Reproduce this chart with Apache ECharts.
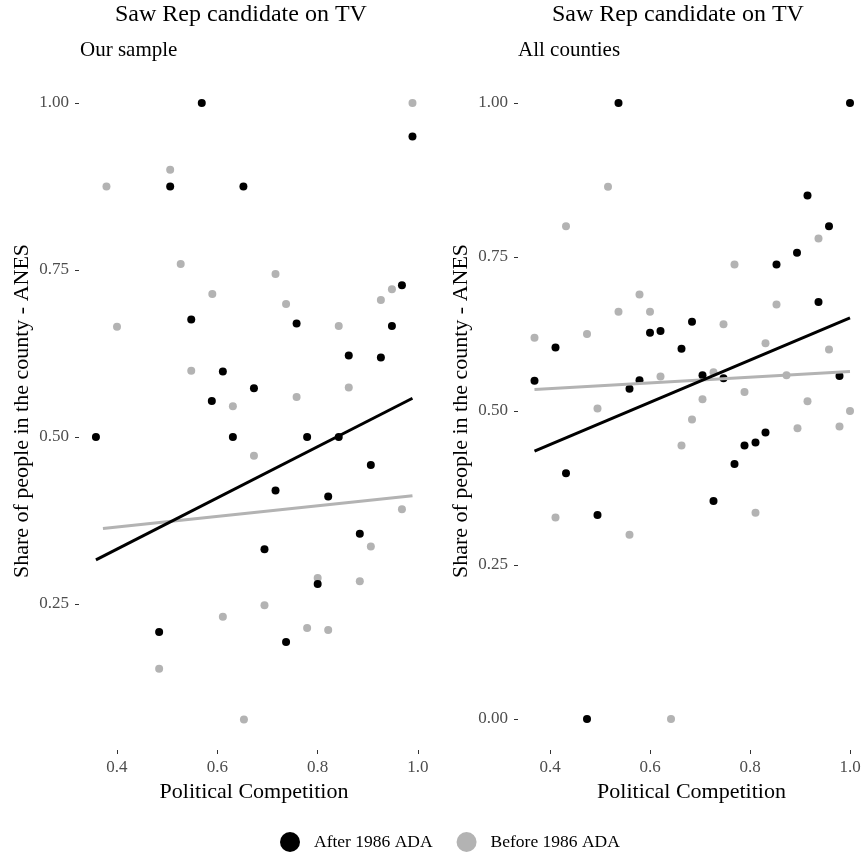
<!DOCTYPE html>
<html>
<head>
<meta charset="utf-8">
<script src="https://cdn.jsdelivr.net/npm/echarts@6/dist/echarts.min.js"></script>
<style>
  html, body { margin: 0; padding: 0; background: #fff; }
  #chart { width: 865px; height: 855px; }
</style>
</head>
<body>
<div id="chart"></div>
<script>
// Share of people who saw the Republican candidate on TV vs. political competition
const xTicks = [0.4, 0.6, 0.8, 1.0];
const yTicksSample = [0.25, 0.50, 0.75, 1.00];
const yTicksAll = [0.00, 0.25, 0.50, 0.75, 1.00];

// Our sample: [political competition, share]
const sampleAfter = [
  [0.569, 1.000], [0.506, 0.875], [0.652, 0.875], [0.989, 0.950], [0.548, 0.676],
  [0.611, 0.598], [0.673, 0.573], [0.589, 0.554], [0.358, 0.500], [0.631, 0.500],
  [0.968, 0.727], [0.758, 0.670], [0.948, 0.666], [0.862, 0.622], [0.926, 0.619],
  [0.779, 0.500], [0.842, 0.500], [0.906, 0.458], [0.484, 0.208], [0.716, 0.420],
  [0.821, 0.411], [0.884, 0.355], [0.694, 0.332], [0.800, 0.280], [0.737, 0.193]
];
const sampleBefore = [
  [0.506, 0.900], [0.379, 0.875], [0.527, 0.759], [0.989, 1.000], [0.716, 0.744],
  [0.590, 0.714], [0.400, 0.665], [0.548, 0.599], [0.631, 0.546], [0.673, 0.472],
  [0.948, 0.721], [0.737, 0.699], [0.926, 0.705], [0.842, 0.666], [0.758, 0.560],
  [0.862, 0.574], [0.611, 0.231], [0.484, 0.153], [0.653, 0.077], [0.968, 0.392],
  [0.906, 0.336], [0.800, 0.289], [0.884, 0.284], [0.694, 0.248], [0.779, 0.214],
  [0.821, 0.211]
];
// Linear fits for our sample
const sampleAfterFit = [[0.358, 0.316], [0.989, 0.558]];
const sampleBeforeFit = [[0.372, 0.363], [0.989, 0.412]];

// All counties: [political competition, share]
const allAfter = [
  [0.537, 1.000], [1.000, 1.000], [0.915, 0.850], [0.958, 0.800], [0.894, 0.757],
  [0.853, 0.738], [0.937, 0.677], [0.684, 0.645], [0.600, 0.627], [0.621, 0.630],
  [0.411, 0.603], [0.663, 0.601], [0.369, 0.549], [0.579, 0.550], [0.559, 0.536],
  [0.705, 0.558], [0.747, 0.553], [0.979, 0.557], [0.432, 0.399], [0.495, 0.331],
  [0.831, 0.465], [0.811, 0.449], [0.789, 0.444], [0.769, 0.414], [0.727, 0.354],
  [0.474, 0.000]
];
const allBefore = [
  [0.516, 0.864], [0.432, 0.800], [0.579, 0.689], [0.537, 0.661], [0.600, 0.661],
  [0.937, 0.780], [0.769, 0.738], [0.853, 0.673], [0.747, 0.641], [0.369, 0.619],
  [0.474, 0.625], [0.831, 0.610], [0.958, 0.600], [0.621, 0.556], [0.727, 0.563],
  [0.873, 0.558], [0.495, 0.504], [0.705, 0.519], [0.789, 0.531], [0.915, 0.516],
  [1.000, 0.500], [0.684, 0.486], [0.895, 0.472], [0.979, 0.475], [0.663, 0.444],
  [0.411, 0.327], [0.559, 0.299], [0.811, 0.335], [0.642, 0.000]
];
// Linear fits for all counties
const allAfterFit = [[0.369, 0.435], [1.000, 0.651]];
const allBeforeFit = [[0.369, 0.535], [1.000, 0.564]];

const FONT = 'Liberation Serif';
const BLACK = '#000000';
const GREY = '#b3b3b3';

function xAxisFor(gridIndex, min, max) {
  return {
    type: 'value', gridIndex, min, max,
    name: 'Political Competition', nameLocation: 'middle', nameGap: 28,
    nameTextStyle: { fontFamily: FONT, fontSize: 22, color: '#000' },
    axisLine: { show: false, onZero: false },
    axisTick: { show: true, length: 4, customValues: xTicks, lineStyle: { color: '#333', width: 1 } },
    axisLabel: {
      customValues: xTicks, margin: 9,
      formatter: v => v.toFixed(1),
      fontFamily: FONT, fontSize: 17, color: '#4d4d4d'
    },
    splitLine: { show: false }
  };
}

function yAxisFor(gridIndex, min, max, ticks) {
  return {
    type: 'value', gridIndex, min, max,
    name: 'Share of people in the county - ANES', nameLocation: 'middle', nameGap: 46,
    nameRotate: 90,
    nameTextStyle: { fontFamily: FONT, fontSize: 22, color: '#000' },
    axisLine: { show: false, onZero: false },
    axisTick: { show: true, length: 4, customValues: ticks, lineStyle: { color: '#333', width: 1 } },
    axisLabel: {
      customValues: ticks, margin: 10,
      formatter: v => v.toFixed(2),
      fontFamily: FONT, fontSize: 17, color: '#4d4d4d'
    },
    splitLine: { show: false }
  };
}

function points(name, data, color, idx) {
  return {
    type: 'scatter', name, data, xAxisIndex: idx, yAxisIndex: idx,
    symbol: 'circle', symbolSize: 8,
    itemStyle: { color, opacity: 1 },
    emphasis: { disabled: true }, z: 2
  };
}

function fit(name, data, color, idx, z) {
  return {
    type: 'line', name, data, xAxisIndex: idx, yAxisIndex: idx,
    showSymbol: false, symbol: 'none',
    lineStyle: { color, width: 3 },
    emphasis: { disabled: true }, z
  };
}

const chart = echarts.init(document.getElementById('chart'), null, { renderer: 'canvas' });
chart.setOption({
  animation: false,
  backgroundColor: '#ffffff',
  title: [
    { text: 'Saw Rep candidate on TV', left: 115, top: 3, padding: 0,
      textStyle: { fontFamily: FONT, fontSize: 24, fontWeight: 'normal', color: '#000' } },
    { text: 'Our sample', left: 80, top: 40, padding: 0,
      textStyle: { fontFamily: FONT, fontSize: 21, fontWeight: 'normal', color: '#000' } },
    { text: 'Saw Rep candidate on TV', left: 552, top: 3, padding: 0,
      textStyle: { fontFamily: FONT, fontSize: 24, fontWeight: 'normal', color: '#000' } },
    { text: 'All counties', left: 518, top: 40, padding: 0,
      textStyle: { fontFamily: FONT, fontSize: 21, fontWeight: 'normal', color: '#000' } }
  ],
  legend: {
    data: [
      { name: 'After 1986 ADA', itemStyle: { color: BLACK } },
      { name: 'Before 1986 ADA', itemStyle: { color: GREY } }
    ],
    icon: 'circle', itemWidth: 20, itemHeight: 20, itemGap: 24,
    left: 280, top: 832, padding: 0,
    selectedMode: false,
    textStyle: { fontFamily: FONT, fontSize: 17.5, color: '#000', padding: [0, 0, 0, 9] }
  },
  grid: [
    { left: 79, top: 72, width: 350, height: 678 },
    { left: 518, top: 72, width: 347, height: 678 }
  ],
  xAxis: [
    xAxisFor(0, 0.32426, 1.02193),
    xAxisFor(1, 0.336, 1.030)
  ],
  yAxis: [
    yAxisFor(0, 0.03144, 1.0464, yTicksSample),
    yAxisFor(1, -0.0503, 1.0503, yTicksAll)
  ],
  series: [
    points('Before 1986 ADA', sampleBefore, GREY, 0),
    points('After 1986 ADA', sampleAfter, BLACK, 0),
    fit('Before fit (sample)', sampleBeforeFit, GREY, 0, 3),
    fit('After fit (sample)', sampleAfterFit, BLACK, 0, 4),
    points('Before 1986 ADA', allBefore, GREY, 1),
    points('After 1986 ADA', allAfter, BLACK, 1),
    fit('Before fit (all)', allBeforeFit, GREY, 1, 3),
    fit('After fit (all)', allAfterFit, BLACK, 1, 4)
  ]
});
</script>
</body>
</html>
